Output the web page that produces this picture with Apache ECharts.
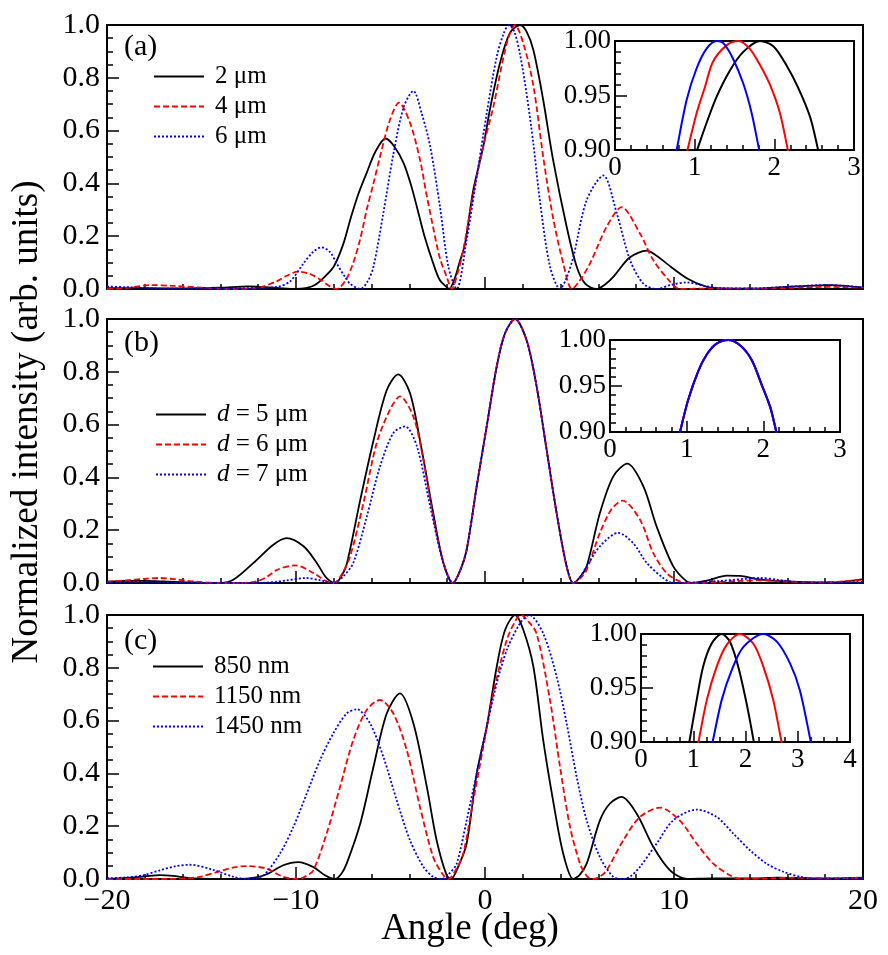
<!DOCTYPE html>
<html><head><meta charset="utf-8">
<script src="https://cdn.jsdelivr.net/npm/echarts@6.0.0/dist/echarts.min.js"></script>
<style>html,body{margin:0;padding:0;background:#fff}#c{width:888px;height:955px}</style>
</head><body><div id="c"></div>
<script>
// ---------------- DATA ----------------
const xTicksMain = [-20, -10, 0, 10, 20];
const yTicksMain = [0, 0.2, 0.4, 0.6, 0.8, 1.0];

const namesA = ['2 μm', '4 μm', '6 μm'];
const namesB = ['d = 5 μm', 'd = 6 μm', 'd = 7 μm'];
const namesC = ['850 nm', '1150 nm', '1450 nm'];

// panel (a)
const a_2um = [[-20,0.003],[-18,0.003],[-16,0.002],[-14,0.005],[-12.5,0.01],[-11,0.004],[-10,0.0],[-9.5,0.003],[-9,0.015],[-8.5,0.045],[-8,0.085],[-7.5,0.17],[-7.1,0.27],[-6.7,0.36],[-6.26,0.44],[-5.8,0.52],[-5.26,0.57],[-4.8,0.54],[-4.3,0.476],[-3.9,0.39],[-3.6,0.31],[-3.2,0.2],[-2.74,0.097],[-2.4,0.035],[-2.0,0.005],[-1.9,0.0],[-1.6,0.04],[-1.35,0.1],[-1.06,0.17],[-0.62,0.375],[-0.09,0.54],[0.26,0.68],[0.79,0.855],[1.32,0.97],[1.85,1.0],[2.2,0.975],[2.56,0.905],[3.08,0.716],[3.6,0.49],[4.32,0.236],[4.85,0.085],[5.3,0.02],[5.9,0.0],[6.4,0.02],[6.8,0.047],[7.67,0.12],[8.56,0.145],[9.1,0.125],[9.6,0.097],[10.7,0.04],[11.7,0.009],[12.5,0.002],[14,0.001],[15.5,0.006],[17,0.012],[18.3,0.015],[19.3,0.01],[20,0.005]];
const a_4um = [[-20,0.0],[-19,0.003],[-17.7,0.015],[-16.5,0.012],[-15,0.005],[-13.5,0.0],[-12,0.005],[-11,0.03],[-10.5,0.05],[-9.9,0.066],[-9.3,0.058],[-8.7,0.035],[-8.2,0.01],[-7.85,0.0],[-7.4,0.03],[-6.98,0.097],[-6.6,0.19],[-6.26,0.3],[-5.9,0.4],[-5.56,0.5],[-5.03,0.64],[-4.55,0.706],[-3.97,0.63],[-3.44,0.49],[-3.1,0.36],[-2.75,0.236],[-2.4,0.12],[-2.03,0.047],[-1.76,0.0],[-1.45,0.06],[-1.15,0.148],[-0.62,0.36],[-0.09,0.54],[0.44,0.69],[1.15,0.93],[1.59,1.0],[2.03,0.93],[2.56,0.77],[3.08,0.5],[3.6,0.27],[4.14,0.097],[4.6,0.0],[5.0,0.03],[5.56,0.097],[6.44,0.236],[7.23,0.31],[8.2,0.21],[8.9,0.11],[9.79,0.028],[10.3,0.0],[12,0.002],[14,0.001],[16,0.004],[18,0.008],[20,0.005]];
const a_6um = [[-20,0.009],[-19,0.007],[-18,0.004],[-17,0.001],[-15,0.001],[-13,0.003],[-11,0.008],[-10.3,0.03],[-9.6,0.097],[-9.1,0.14],[-8.64,0.158],[-8.2,0.14],[-7.85,0.097],[-7.4,0.045],[-7.14,0.02],[-6.6,0.0],[-6.2,0.03],[-5.9,0.085],[-5.38,0.287],[-4.85,0.51],[-4.3,0.69],[-3.79,0.75],[-3.35,0.665],[-2.9,0.54],[-2.38,0.31],[-1.94,0.085],[-1.5,0.0],[-0.97,0.186],[-0.44,0.425],[0.09,0.665],[0.62,0.88],[1.0,0.97],[1.27,1.0],[1.55,0.975],[1.85,0.89],[2.2,0.74],[2.56,0.55],[2.9,0.337],[3.44,0.085],[3.97,0.0],[4.3,0.04],[4.67,0.12],[5.38,0.337],[6.26,0.43],[6.97,0.287],[7.67,0.11],[8.38,0.02],[9.1,0.0],[9.8,0.015],[10.7,0.025],[11.6,0.012],[12.5,0.003],[14,0.002],[16,0.008],[18,0.015],[19,0.012],[20,0.006]];

// panel (b)
const b_5 = [[-20,0.005],[-19,0.008],[-18,0.008],[-17,0.006],[-16,0.003],[-15,0.001],[-14,0.0],[-13.3,0.013],[-12.25,0.076],[-11.2,0.145],[-10.5,0.17],[-9.6,0.139],[-8.9,0.076],[-8.4,0.02],[-7.94,0.0],[-7.6,0.025],[-7.3,0.076],[-6.6,0.315],[-5.9,0.54],[-5.2,0.73],[-4.59,0.79],[-3.97,0.72],[-3.44,0.54],[-2.74,0.265],[-2.2,0.076],[-1.7,0.0],[-1.3,0.05],[-0.97,0.126],[-0.44,0.366],[0.09,0.593],[0.62,0.82],[1.06,0.946],[1.59,1.0],[2.2,0.92],[2.73,0.745],[3.26,0.505],[3.79,0.265],[4.32,0.063],[4.67,0.0],[5.0,0.02],[5.38,0.063],[6.08,0.265],[6.79,0.404],[7.53,0.452],[8.38,0.366],[9.08,0.214],[9.96,0.063],[10.67,0.006],[11.0,0.0],[11.8,0.01],[12.8,0.028],[13.5,0.027],[14.4,0.015],[15.5,0.008],[17,0.003],[18.5,0.002],[19.3,0.008],[20,0.015]];
const b_6 = [[-20,0.004],[-19,0.01],[-18,0.016],[-17.2,0.019],[-16.3,0.013],[-15.3,0.005],[-14,0.0],[-13,0.0],[-12.08,0.006],[-11.5,0.025],[-11,0.05],[-10.05,0.067],[-9.08,0.038],[-8.38,0.006],[-8.0,0.0],[-7.6,0.03],[-7.14,0.1],[-6.44,0.3],[-5.73,0.53],[-5.03,0.656],[-4.5,0.707],[-3.79,0.63],[-3.26,0.467],[-2.74,0.25],[-2.2,0.076],[-1.7,0.0],[-1.3,0.05],[-0.97,0.126],[-0.44,0.366],[0.09,0.593],[0.62,0.82],[1.06,0.946],[1.59,1.0],[2.2,0.92],[2.73,0.745],[3.26,0.505],[3.79,0.265],[4.32,0.063],[4.67,0.0],[5.0,0.015],[5.38,0.05],[6.08,0.19],[6.7,0.28],[7.28,0.312],[8.2,0.24],[8.9,0.114],[9.6,0.038],[10.3,0.006],[10.8,0.0],[12,0.002],[13.5,0.008],[14.5,0.01],[16,0.005],[17.5,0.002],[19,0.006],[20,0.012]];
const b_7 = [[-20,0.002],[-19,0.004],[-18,0.005],[-17,0.004],[-16,0.002],[-14,0.0],[-12,0.0],[-11,0.005],[-10.5,0.01],[-9.43,0.019],[-8.7,0.01],[-8.0,0.0],[-7.5,0.025],[-6.97,0.076],[-6.26,0.25],[-5.56,0.44],[-4.85,0.568],[-4.23,0.593],[-3.6,0.517],[-2.9,0.29],[-2.2,0.076],[-1.7,0.0],[-1.3,0.05],[-0.97,0.126],[-0.44,0.366],[0.09,0.593],[0.62,0.82],[1.06,0.946],[1.59,1.0],[2.2,0.92],[2.73,0.745],[3.26,0.505],[3.79,0.265],[4.32,0.063],[4.67,0.0],[5.0,0.02],[5.38,0.063],[6.08,0.139],[7.05,0.19],[7.85,0.15],[8.56,0.076],[9.43,0.019],[9.96,0.0],[11,0.002],[12.5,0.008],[14.55,0.019],[15.5,0.012],[16.5,0.004],[18,0.001],[19.5,0.003],[20,0.005]];

// panel (c)
const c_850 = [[-20,0.0],[-19,0.004],[-18,0.01],[-17.2,0.015],[-16.5,0.012],[-15.8,0.005],[-15,0.001],[-14,0.0],[-13,0.0],[-12.2,0.005],[-11.55,0.018],[-10.67,0.052],[-9.88,0.064],[-9.08,0.045],[-8.47,0.014],[-7.94,0.0],[-7.6,0.02],[-7.32,0.058],[-6.6,0.21],[-5.9,0.425],[-5.2,0.627],[-4.5,0.703],[-3.79,0.59],[-3.08,0.35],[-2.56,0.147],[-2.03,0.014],[-1.8,0.0],[-1.4,0.05],[-0.97,0.134],[-0.44,0.4],[0.09,0.576],[0.62,0.804],[1.06,0.943],[1.59,1.0],[2.03,0.943],[2.56,0.804],[3.08,0.526],[3.6,0.298],[4.14,0.096],[4.67,0.0],[5.0,0.015],[5.38,0.058],[6.08,0.222],[6.61,0.286],[7.23,0.311],[8.02,0.248],[8.91,0.121],[9.79,0.033],[10.67,0.0],[12,0.002],[14,0.002],[15.5,0.005],[17,0.003],[18.5,0.002],[20,0.005]];
const c_1150 = [[-20,0.0],[-18,0.0],[-16.8,0.0],[-15.8,0.003],[-15.1,0.008],[-14.0,0.03],[-13.2,0.045],[-12.6,0.049],[-11.55,0.039],[-10.67,0.008],[-9.88,0.0],[-9.5,0.01],[-9.08,0.033],[-8.38,0.172],[-7.67,0.349],[-6.97,0.526],[-6.26,0.64],[-5.56,0.678],[-4.85,0.627],[-4.14,0.488],[-3.44,0.273],[-2.74,0.083],[-2.2,0.014],[-1.94,0.0],[-1.5,0.04],[-1.15,0.096],[-0.62,0.298],[-0.09,0.5],[0.44,0.703],[1.15,0.905],[1.68,0.987],[1.9,1.0],[2.3,0.975],[2.73,0.93],[3.44,0.677],[3.97,0.425],[4.5,0.197],[5.03,0.058],[5.4,0.01],[5.73,0.0],[6.1,0.01],[6.44,0.033],[7.32,0.147],[8.2,0.235],[9.26,0.27],[10.3,0.222],[11.2,0.134],[12.08,0.058],[12.96,0.014],[13.5,0.0],[15,0.002],[16.5,0.005],[18,0.003],[20,0.004]];
const c_1450 = [[-20,0.003],[-19,0.006],[-18.1,0.014],[-17.2,0.033],[-16.4,0.048],[-15.6,0.054],[-14.4,0.035],[-13.3,0.008],[-12.6,0.0],[-12.1,0.004],[-11.7,0.014],[-10.85,0.096],[-10.14,0.197],[-9.43,0.324],[-8.73,0.45],[-8.03,0.551],[-7.32,0.627],[-6.79,0.643],[-6.08,0.589],[-5.38,0.463],[-4.67,0.298],[-3.97,0.147],[-3.26,0.046],[-2.74,0.008],[-2.3,0.0],[-1.9,0.02],[-1.5,0.058],[-0.97,0.222],[-0.44,0.4],[0.09,0.576],[0.62,0.741],[1.15,0.867],[1.85,0.968],[2.34,1.0],[3.08,0.93],[3.79,0.766],[4.32,0.589],[4.85,0.387],[5.38,0.222],[6.08,0.083],[6.79,0.008],[7.32,0.0],[7.7,0.01],[8.2,0.046],[9.08,0.134],[9.96,0.222],[11.2,0.263],[12.26,0.235],[13.14,0.172],[14.02,0.109],[14.9,0.058],[15.8,0.027],[16.7,0.008],[17.55,0.0],[19,0.002],[20,0.003]];

// insets (zoom on the main peak)
const ia_2um = [[0.98,0.89],[1.03,0.90],[1.15,0.925],[1.276,0.949],[1.443,0.973],[1.61,0.990],[1.82,1.0],[1.99,0.995],[2.15,0.978],[2.30,0.957],[2.45,0.93],[2.55,0.90],[2.58,0.89]];
const ia_4um = [[0.88,0.89],[0.91,0.90],[1.025,0.934],[1.13,0.958],[1.23,0.981],[1.40,0.996],[1.55,1.0],[1.69,0.993],[1.82,0.978],[1.945,0.96],[2.07,0.934],[2.17,0.90],[2.2,0.89]];
const ia_6um = [[0.75,0.89],[0.774,0.90],[0.90,0.946],[1.025,0.975],[1.15,0.993],[1.276,1.0],[1.36,0.998],[1.48,0.984],[1.61,0.961],[1.715,0.934],[1.81,0.90],[1.84,0.89]];
const ib_5 = [[0.89,0.89],[0.913,0.90],[1.02,0.935],[1.15,0.966],[1.26,0.984],[1.39,0.996],[1.54,1.0],[1.70,0.994],[1.85,0.978],[1.98,0.951],[2.09,0.927],[2.17,0.90],[2.2,0.89]];
const ib_6 = [[0.89,0.89],[0.913,0.90],[1.02,0.935],[1.15,0.966],[1.26,0.984],[1.39,0.996],[1.54,1.0],[1.70,0.994],[1.85,0.978],[1.98,0.951],[2.09,0.927],[2.17,0.90],[2.2,0.89]];
const ib_7 = [[0.89,0.89],[0.913,0.90],[1.02,0.935],[1.15,0.966],[1.26,0.984],[1.39,0.996],[1.54,1.0],[1.70,0.994],[1.85,0.978],[1.98,0.951],[2.09,0.927],[2.17,0.90],[2.2,0.89]];
const ic_850 = [[0.89,0.89],[0.925,0.90],[1.066,0.939],[1.19,0.970],[1.35,0.991],[1.545,1.0],[1.70,0.993],[1.86,0.970],[2.02,0.936],[2.16,0.90],[2.19,0.89]];
const ic_1150 = [[1.06,0.89],[1.10,0.90],[1.26,0.939],[1.45,0.970],[1.64,0.99],[1.89,1.0],[2.15,0.991],[2.34,0.97],[2.53,0.939],[2.69,0.90],[2.73,0.89]];
const ic_1450 = [[1.32,0.89],[1.37,0.90],[1.545,0.939],[1.74,0.967],[1.96,0.988],[2.34,1.0],[2.60,0.993],[2.85,0.973],[3.04,0.948],[3.25,0.90],[3.29,0.89]];

// ---------------- CHART ----------------
const FONT = 'Liberation Serif';
const BLACK = '#000000', RED = '#ff0000', BLUE = '#0000ff';
const DASH = [6, 3], DOT = [2, 2];

const grids = [
  {left:107, top:25,  width:756, height:264},
  {left:107, top:319, width:756, height:264},
  {left:107, top:615, width:756, height:264},
  {left:615, top:41,  width:239, height:109},
  {left:610, top:340, width:230, height:92},
  {left:641, top:634, width:209, height:108}
].map(g => Object.assign({show:true, borderColor:'#000', borderWidth:2, backgroundColor:'transparent'}, g));

function minus(v){ return v < 0 ? '\u2212' + Math.abs(v) : String(v); }

function mainX(i, labels){
  return {type:'value', gridIndex:i, min:-20, max:20, interval:10,
    axisLine:{show:true, onZero:false, lineStyle:{color:'#000', width:2}},
    axisTick:{show:true, inside:true, length:12, lineStyle:{color:'#000', width:1.5}},
    minorTick:{show:true, splitNumber:5, length:5, lineStyle:{color:'#000', width:1.5}},
    splitLine:{show:false},
    axisLabel:{show:labels, formatter:minus, fontFamily:FONT, fontSize:30, color:'#000', margin:7}};
}
function mainY(i){
  return {type:'value', gridIndex:i, min:0, max:1, interval:0.2,
    axisLine:{show:true, onZero:false, lineStyle:{color:'#000', width:2}},
    axisTick:{show:true, inside:true, length:12, lineStyle:{color:'#000', width:1.5}},
    minorTick:{show:true, splitNumber:4, length:6, lineStyle:{color:'#000', width:1.5}},
    splitLine:{show:false},
    axisLabel:{formatter:v => v.toFixed(1), fontFamily:FONT, fontSize:30, color:'#000', margin:7}};
}
function insetX(i, max, split){
  return {type:'value', gridIndex:i, min:0, max:max, interval:1,
    axisLine:{show:true, onZero:false, lineStyle:{color:'#000', width:2}},
    axisTick:{show:true, inside:true, length:11, lineStyle:{color:'#000', width:1.5}},
    minorTick:{show:true, splitNumber:split, length:5, lineStyle:{color:'#000', width:1.5}},
    splitLine:{show:false},
    axisLabel:{fontFamily:FONT, fontSize:27, color:'#000', margin:4}};
}
function insetY(i){
  return {type:'value', gridIndex:i, min:0.9, max:1.0, interval:0.05,
    axisLine:{show:true, onZero:false, lineStyle:{color:'#000', width:2}},
    axisTick:{show:true, inside:true, length:12, lineStyle:{color:'#000', width:1.5}},
    minorTick:{show:true, splitNumber:5, length:6, lineStyle:{color:'#000', width:1.5}},
    splitLine:{show:false},
    axisLabel:{formatter:v => v.toFixed(2), fontFamily:FONT, fontSize:27, color:'#000', margin:4}};
}

function ser(name, data, color, type, gi, w){
  return {name:name, type:'line', xAxisIndex:gi, yAxisIndex:gi, data:data,
    symbol:'none', smooth:0.3, clip:true, animation:false,
    lineStyle:{color:color, width:w || 1.8, type:type}, itemStyle:{color:color}};
}

const series = [
  ser(namesA[0], a_2um, BLACK, 'solid', 0),
  ser(namesA[1], a_4um, RED, DASH, 0),
  ser(namesA[2], a_6um, BLUE, DOT, 0),
  ser(namesB[0], b_5, BLACK, 'solid', 1),
  ser(namesB[1], b_6, RED, DASH, 1),
  ser(namesB[2], b_7, BLUE, DOT, 1),
  ser(namesC[0], c_850, BLACK, 'solid', 2),
  ser(namesC[1], c_1150, RED, DASH, 2),
  ser(namesC[2], c_1450, BLUE, DOT, 2),
  ser('ia1', ia_2um, BLACK, 'solid', 3, 2),
  ser('ia2', ia_4um, RED, 'solid', 3, 2),
  ser('ia3', ia_6um, BLUE, 'solid', 3, 2),
  ser('ib1', ib_5, BLACK, 'solid', 4, 2),
  ser('ib2', ib_6, RED, 'solid', 4, 2),
  ser('ib3', ib_7, BLUE, 'solid', 4, 2),
  ser('ic1', ic_850, BLACK, 'solid', 5, 2),
  ser('ic2', ic_1150, RED, 'solid', 5, 2),
  ser('ic3', ic_1450, BLUE, 'solid', 5, 2)
];

function legend(names, left, top, italicD){
  return {data:names, orient:'vertical', left:left, top:top, padding:0,
    itemWidth:50, itemHeight:14, itemGap:5, selectedMode:false,
    itemStyle:{color:'transparent', borderColor:'transparent', borderWidth:0},
    formatter: italicD ? (n => '{i|d}' + n.slice(1)) : undefined,
    textStyle:{fontFamily:FONT, fontSize:25, lineHeight:25, color:'#000', padding:[0,0,0,6],
      rich:{i:{fontFamily:FONT, fontSize:25, fontStyle:'italic', color:'#000'}}}};
}

function label(t, x, y){
  return {type:'text', x:x, y:y, style:{text:t, font:'30px ' + FONT, fill:'#000', align:'left', verticalAlign:'middle'}};
}

const option = {
  animation:false,
  backgroundColor:'#fff',
  grid:grids,
  xAxis:[mainX(0,false), mainX(1,false), mainX(2,true), insetX(3,3,5), insetX(4,3,5), insetX(5,4,4)],
  yAxis:[mainY(0), mainY(1), mainY(2), insetY(3), insetY(4), insetY(5)],
  legend:[legend(namesA,153,64), legend(namesB,155,402,true), legend(namesC,152,654)],
  series:series,
  graphic:[
    label('(a)', 124, 47),
    label('(b)', 124, 343),
    label('(c)', 124, 641),
    {type:'text', x:470, y:929, style:{text:'Angle (deg)', font:'37px ' + FONT, fill:'#000', align:'center', verticalAlign:'middle'}},
    {type:'text', x:27, y:422, rotation:Math.PI/2, style:{text:'Normalized intensity (arb. units)', font:'37px ' + FONT, fill:'#000', align:'center', verticalAlign:'middle'}}
  ]
};

const chart = echarts.init(document.getElementById('c'), null, {renderer:'canvas'});
chart.setOption(option);
</script>
</body></html>
